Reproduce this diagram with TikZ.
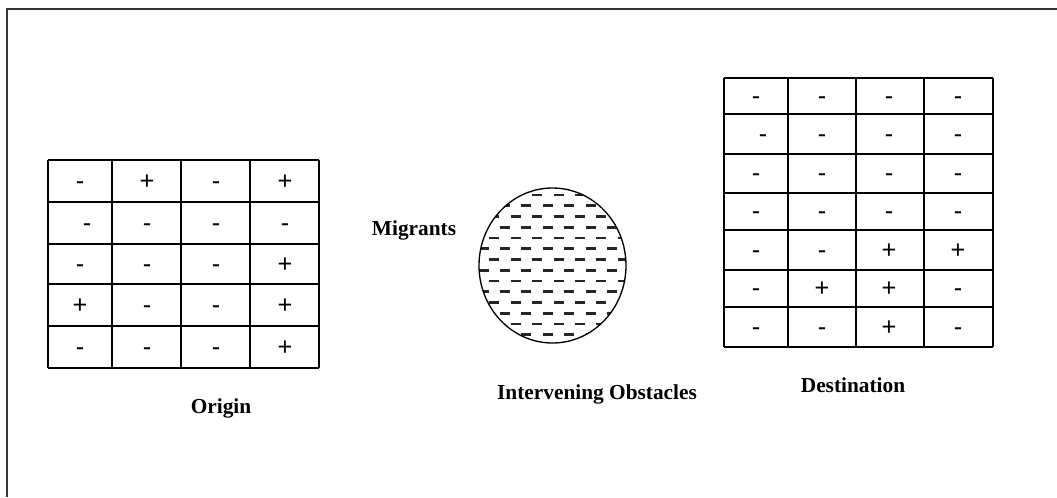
\documentclass[tikz,border=0pt]{standalone}
\usepackage{fontspec}
\setmainfont{Liberation Serif}
\newfontfamily\symfont{Liberation Sans}
\usetikzlibrary{shapes.geometric}
\begin{document}
\begin{tikzpicture}[x=0.75pt,y=-0.75pt,
  gridline/.style={line width=1.5pt, black},
  sym/.style={font=\symfont\fontsize{19}{19}\selectfont, inner sep=0pt, anchor=base},
  lbl/.style={font=\bfseries\fontsize{16}{16}\selectfont, inner sep=0pt, anchor=base},
  frameline/.style={line width=1.6pt, black!80},
  dashmark/.style={line width=2pt, black!85, line cap=butt}]
\useasboundingbox (0,0) rectangle (1057,497);
\draw[frameline] (7,497) -- (7,9) -- (1057,9);

% Origin grid
\foreach \x in {48,112,181,250,319} \draw[gridline] (\x,160) -- (\x,368);
\foreach \y in {160,202,244,284,326,368} \draw[gridline] (48,\y) -- (319,\y);
\foreach \yc/\xa/\a/\b/\c/\d [count=\i] in {181/80/-/+/-/+, 223/87/-/-/-/-, 264/80/-/-/-/+, 305/80/+/-/-/+, 347/80/-/-/-/+} {
  \node[sym] (o\i a) at (\xa,{\yc+8}) {\a};
  \node[sym] (o\i b) at (147,{\yc+8}) {\b};
  \node[sym] (o\i c) at (216,{\yc+8}) {\c};
  \node[sym] (o\i d) at (285,{\yc+8}) {\d};
}

% Destination grid
\foreach \x in {724,788,856,924,993} \draw[gridline] (\x,78) -- (\x,347);
\foreach \y in {78,114,154,193,230,270,307,347} \draw[gridline] (724,\y) -- (993,\y);
\foreach \yc/\xa/\a/\b/\c/\d [count=\i] in {96/756/-/-/-/-, 134/763/-/-/-/-, 173.5/756/-/-/-/-, 211.5/756/-/-/-/-, 250/756/-/-/+/+, 288.5/756/-/+/+/-, 327/756/-/-/+/-} {
  \node[sym] (d\i a) at (\xa,{\yc+8}) {\a};
  \node[sym] (d\i b) at (822,{\yc+8}) {\b};
  \node[sym] (d\i c) at (889,{\yc+8}) {\c};
  \node[sym] (d\i d) at (958,{\yc+8}) {\d};
}

% Intervening obstacles
\begin{scope}
\clip (552.5,265.5) ellipse [x radius=73.5, y radius=77.5];
\foreach \r in {-2,...,16} {
  \pgfmathsetmacro{\yy}{195+10.75*\r}
  \pgfmathsetmacro{\xo}{mod(\r,2)==0 ? 515.7 : 505}
  \foreach \k in {-4,...,7} {
    \draw[dashmark] ({\xo+21.4*\k-5},\yy) -- ({\xo+21.4*\k+5},\yy);
  }
}
\end{scope}
\node (obst) [ellipse, draw, line width=1pt, minimum width=110.25pt, minimum height=116.25pt, inner sep=0pt] at (552.5,265.5) {};

% Labels
\node[lbl] (origin) at (221,413) {Origin};
\node[lbl] (migrants) at (414,235) {Migrants};
\node[lbl] (obstlbl) at (597,399) {Intervening Obstacles};
\node[lbl] (dest) at (853,392) {Destination};
\end{tikzpicture}
\end{document}
